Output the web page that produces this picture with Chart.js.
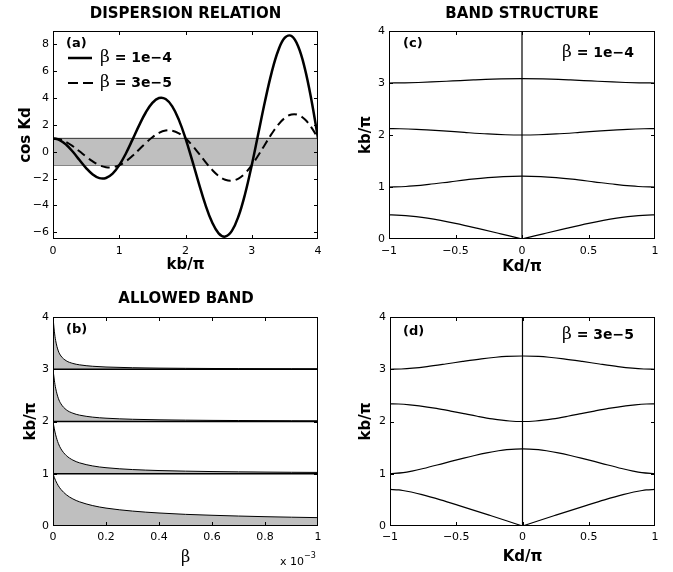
<!DOCTYPE html>
<html><head><meta charset="utf-8">
<script src="https://cdn.jsdelivr.net/npm/chart.js@4.4.1/dist/chart.umd.min.js"></script>
<style>
html,body{margin:0;padding:0;background:#fff;}
#wrap{position:relative;width:673px;height:572px;overflow:hidden;background:#fff;}
canvas{position:absolute;left:0;top:0;}
</style></head><body>
<div id="wrap">
<canvas id="ca" width="673" height="572" style="width:673px;height:572px"></canvas>
<canvas id="cb" width="673" height="572" style="width:673px;height:572px"></canvas>
<canvas id="cc" width="673" height="572" style="width:673px;height:572px"></canvas>
<canvas id="cd" width="673" height="572" style="width:673px;height:572px"></canvas>
</div>
<script>
// ---------- Panel (a): dispersion relation ----------
const kbA = [0,0.1,0.2,0.3,0.4,0.5,0.6,0.7,0.8,0.9,1.0,1.1,1.2,1.3,1.4,1.5,1.6,1.7,1.8,1.9,2.0,
             2.1,2.2,2.3,2.4,2.5,2.6,2.7,2.8,2.9,3.0,3.1,3.2,3.3,3.4,3.5,3.6,3.7,3.8,3.9,4.0];
const cosKdBeta1e4 = [1,0.876,0.523,-0.002,-0.616,-1.215,-1.696,-1.964,-1.952,-1.627,-1,
                      -0.125,0.905,1.968,2.927,3.645,4.007,3.930,3.380,2.378,1,
                      -0.626,-2.333,-3.934,-5.238,-6.075,-6.318,-5.896,-4.808,-3.129,-1,
                      1.377,3.762,5.900,7.549,8.505,8.629,7.862,6.237,3.880,1];
const cosKdBeta3e5 = [1,0.929,0.724,0.413,0.035,-0.36,-0.720,-0.996,-1.148,-1.151,-1,
                      -0.706,-0.301,0.169,0.650,1.08,1.405,1.578,1.571,1.374,1,
                      0.484,-0.122,-0.752,-1.335,-1.8,-2.089,-2.160,-1.994,-1.596,-1,
                      -0.261,0.545,1.334,2.019,2.52,2.774,2.743,2.417,1.819,1];
const bandLimitX = [0,4];
const bandUpper = [1,1];
const bandLower = [-1,-1];
const xTicksA = [0,1,2,3,4];
const xLabelsA = ['0','1','2','3','4'];
const yTicksA = [-6,-4,-2,0,2,4,6,8];
const yLabelsA = ['\u22126','\u22124','\u22122','0','2','4','6','8'];

// ---------- Panel (b): allowed bands vs beta (x 1e-3) ----------
const betaB = [0,0.005,0.01,0.02,0.03,0.05,0.075,0.1,0.15,0.2,0.3,0.4,0.5,0.6,0.7,0.8,0.9,1.0];
const band0Top = [1,0.9285,0.8675,0.771,0.700,0.599,0.518,0.463,0.390,0.343,0.2853,0.249,0.223,0.2052,0.1905,0.1785,0.1686,0.1601];
const band1Top = [2,1.8587,1.745,1.582,1.476,1.349,1.261,1.209,1.1493,1.116,1.0804,1.0615,1.0498,1.0419,1.0361,1.0317,1.0283,1.0255];
const band2Top = [3,2.792,2.637,2.445,2.338,2.2245,2.1585,2.122,2.0834,2.0633,2.0427,2.0322,2.0258,2.0215,2.0185,2.0162,2.0144,2.013];
const band3Top = [4,3.729,3.549,3.3505,3.254,3.162,3.111,3.0845,3.057,3.043,3.0289,3.0218,3.0174,3.0145,3.0125,3.0109,3.0097,3.0087];
const bandBottomX = [0,1];
const xTicksB = [0,0.2,0.4,0.6,0.8,1];
const xLabelsB = ['0','0.2','0.4','0.6','0.8','1'];
const yTicks04 = [0,1,2,3,4];
const yLabels04 = ['0','1','2','3','4'];

// ---------- Panel (c): band structure, beta = 1e-4 ----------
const c0LeftKd = [-1,-0.9424,-0.8754,-0.796,-0.7114,-0.5006,-0.3247,-0.160,-0.0797,0];
const c0LeftKb = [0.463,0.46,0.45,0.43,0.4,0.3,0.2,0.1,0.05,0];
const c0RightKd = [0,0.0797,0.160,0.3247,0.5006,0.7114,0.796,0.8754,0.9424,1];
const c0RightKb = [0,0.05,0.1,0.2,0.3,0.4,0.43,0.45,0.46,0.463];
const c1Kd = [-1,-0.8737,-0.8184,-0.7004,-0.5399,-0.3767,-0.2567,-0.1402,0,0.1402,0.2567,0.3767,0.5399,0.7004,0.8184,0.8737,1];
const c1Kb = [1,1.01,1.02,1.05,1.1,1.15,1.18,1.2,1.2095,1.2,1.18,1.15,1.1,1.05,1.02,1.01,1];
const c2Kd = [-1,-0.9174,-0.7926,-0.7155,-0.5931,-0.4331,-0.2576,-0.1255,0,0.1255,0.2576,0.4331,0.5931,0.7155,0.7926,0.9174,1];
const c2Kb = [2.122,2.12,2.11,2.1,2.08,2.05,2.02,2.005,2,2.005,2.02,2.05,2.08,2.1,2.11,2.12,2.122];
const c3Kd = [-1,-0.8812,-0.7796,-0.6805,-0.5212,-0.3651,-0.2195,0,0.2195,0.3651,0.5212,0.6805,0.7796,0.8812,1];
const c3Kb = [3,3.003,3.01,3.02,3.04,3.06,3.075,3.0845,3.075,3.06,3.04,3.02,3.01,3.003,3];

// ---------- Panel (d): band structure, beta = 3e-5 ----------
const d0LeftKd = [-1,-0.9333,-0.9034,-0.8401,-0.7583,-0.6187,-0.4899,-0.3652,-0.2426,-0.1209,0];
const d0LeftKb = [0.70,0.69,0.68,0.65,0.6,0.5,0.4,0.3,0.2,0.1,0];
const d0RightKd = [0,0.1209,0.2426,0.3652,0.4899,0.6187,0.7583,0.8401,0.9034,0.9333,1];
const d0RightKb = [0,0.1,0.2,0.3,0.4,0.5,0.6,0.65,0.68,0.69,0.70];
const d1Kd = [-1,-0.9002,-0.8345,-0.7484,-0.5953,-0.4428,-0.361,-0.27,-0.1808,-0.1189,0,0.1189,0.1808,0.27,0.361,0.4428,0.5953,0.7484,0.8345,0.9002,1];
const d1Kb = [1,1.02,1.05,1.1,1.2,1.3,1.35,1.4,1.44,1.46,1.477,1.46,1.44,1.4,1.35,1.3,1.2,1.1,1.05,1.02,1];
const d2Kd = [-1,-0.935,-0.8505,-0.779,-0.6495,-0.5427,-0.4426,-0.3413,-0.2278,-0.0975,0,0.0975,0.2278,0.3413,0.4426,0.5427,0.6495,0.779,0.8505,0.935,1];
const d2Kb = [2.3375,2.335,2.32,2.3,2.25,2.2,2.15,2.1,2.05,2.01,2,2.01,2.05,2.1,2.15,2.2,2.25,2.3,2.32,2.335,2.3375];
const d3Kd = [-1,-0.9161,-0.8289,-0.7211,-0.5813,-0.4516,-0.3101,-0.2005,-0.1213,0,0.1213,0.2005,0.3101,0.4516,0.5813,0.7211,0.8289,0.9161,1];
const d3Kb = [3,3.005,3.02,3.05,3.1,3.15,3.2,3.23,3.245,3.254,3.245,3.23,3.2,3.15,3.1,3.05,3.02,3.005,3];

const centerLineKd = [0,0];
const centerLineKb = [0,4];
const xTicksCD = [-1,-0.5,0,0.5,1];
const xLabelsCD = ['\u22121','\u22120.5','0','0.5','1'];

// ---------- helpers ----------
const zip = (xs, ys) => xs.map((x, i) => ({x: x, y: ys[i]}));
const GRAY = '#bfbfbf';
const SANS = '"DejaVu Sans", sans-serif';
const SERIF = '"DejaVu Serif", serif';

const decorPlugin = {
  id: 'decor',
  afterDatasetsDraw(chart, args, o) {
    const {ctx, chartArea: a, scales} = chart;
    ctx.save();
    ctx.strokeStyle = '#000';
    ctx.lineWidth = 1;
    ctx.setLineDash([]);
    const L = Math.round(a.left), T = Math.round(a.top), R = Math.round(a.right), B = Math.round(a.bottom);
    ctx.strokeRect(L + 0.5, T + 0.5, R - L - 1, B - T - 1);
    const tl = 4;
    ctx.beginPath();
    scales.x.ticks.forEach(t => {
      const p = Math.round(scales.x.getPixelForValue(t.value)) + 0.5;
      if (p < L + 2 || p > R - 2) return;
      ctx.moveTo(p, B); ctx.lineTo(p, B - tl);
      ctx.moveTo(p, T); ctx.lineTo(p, T + tl);
    });
    scales.y.ticks.forEach(t => {
      const p = Math.round(scales.y.getPixelForValue(t.value)) + 0.5;
      if (p < T + 2 || p > B - 2) return;
      ctx.moveTo(L, p); ctx.lineTo(L + tl, p);
      ctx.moveTo(R, p); ctx.lineTo(R - tl, p);
    });
    ctx.stroke();
    ctx.restore();
  },
  afterDraw(chart, args, o) {
    const ctx = chart.ctx;
    ctx.save();
    ctx.fillStyle = '#000';
    ctx.textBaseline = 'middle';
    (o.lines || []).forEach(l => {
      ctx.beginPath();
      ctx.strokeStyle = '#000';
      ctx.lineWidth = l.w;
      ctx.setLineDash(l.dash || []);
      ctx.moveTo(l.x1, l.y); ctx.lineTo(l.x2, l.y);
      ctx.stroke();
    });
    ctx.setLineDash([]);
    (o.texts || []).forEach(t => {
      let total = 0;
      t.parts.forEach(p => { ctx.font = p.f; total += ctx.measureText(p.t).width; });
      let x = t.align === 'center' ? t.x - total / 2 : t.x;
      t.parts.forEach(p => {
        ctx.font = p.f;
        ctx.textAlign = 'left';
        ctx.fillText(p.t, x, t.y + (p.dy || 0));
        x += ctx.measureText(p.t).width;
      });
    });
    ctx.restore();
  }
};

function makeChart(id, cfg) {
  return new Chart(document.getElementById(id), {
    type: 'line',
    data: { datasets: cfg.datasets },
    options: {
      responsive: false,
      animation: false,
      events: [],
      layout: { padding: cfg.padding },
      elements: {
        point: { radius: 0, hoverRadius: 0 },
        line: { borderColor: '#000', borderWidth: 1.2, fill: false }
      },
      plugins: {
        legend: { display: false },
        tooltip: { enabled: false },
        decor: { texts: cfg.texts, lines: cfg.legendLines || [] }
      },
      scales: {
        x: {
          type: 'linear', min: cfg.xMin, max: cfg.xMax,
          grid: { display: false, drawTicks: false }, border: { display: false },
          afterBuildTicks: s => { s.ticks = cfg.xTicks.map(v => ({value: v})); },
          afterFit: s => { s.height = cfg.xH; },
          ticks: { callback: (v, i) => cfg.xLabels[i], font: { family: SANS, size: 11 }, color: '#000',
                   padding: cfg.xPad, maxRotation: 0, autoSkip: false },
          title: { display: true, text: cfg.xTitle, font: cfg.xTitleFont, color: '#000',
                   padding: { top: 0, bottom: cfg.xTitlePad } }
        },
        y: {
          type: 'linear', min: cfg.yMin, max: cfg.yMax,
          grid: { display: false, drawTicks: false }, border: { display: false },
          afterBuildTicks: s => { s.ticks = cfg.yTicks.map(v => ({value: v})); },
          afterFit: s => { s.width = cfg.yW; },
          ticks: { callback: (v, i) => cfg.yLabels[i], font: { family: SANS, size: 11 }, color: '#000',
                   padding: 4, autoSkip: false },
          title: { display: true, text: cfg.yTitle, font: { family: SANS, size: 15, weight: 'bold' }, color: '#000',
                   padding: { top: cfg.yTitlePad, bottom: 0 } }
        }
      }
    },
    plugins: [decorPlugin]
  });
}

const titleFont = 'bold 15px ' + SANS;
const labFont = 'bold 13px ' + SANS;
const betaFont = '17px ' + SERIF;
const eqFont = 'bold 14px ' + SANS;
const axisTitleFont = { family: SANS, size: 15, weight: 'bold' };

// (a)
makeChart('ca', {
  padding: { left: 11, top: 31, right: 355, bottom: 293 },
  xMin: 0, xMax: 4, yMin: -6.5, yMax: 9, xH: 40, yW: 42,
  xTicks: xTicksA, xLabels: xLabelsA, yTicks: yTicksA, yLabels: yLabelsA,
  xPad: 6, xTitle: 'kb/\u03c0', xTitleFont: axisTitleFont, xTitlePad: 5,
  yTitle: 'cos Kd', yTitlePad: 6,
  datasets: [
    { data: zip(kbA, cosKdBeta1e4), borderWidth: 2.5, tension: 0.4, order: 1 },
    { data: zip(kbA, cosKdBeta3e5), borderWidth: 2, borderDash: [9, 5], tension: 0.4, order: 2 },
    { data: zip(bandLimitX, bandUpper), borderWidth: 1, borderColor: '#333', backgroundColor: GRAY, fill: { value: -1 }, order: 3 },
    { data: zip(bandLimitX, bandLower), borderWidth: 1, borderColor: '#333', order: 4 }
  ],
  texts: [
    { parts: [{ t: 'DISPERSION RELATION', f: titleFont }], x: 185.5, y: 14, align: 'center' },
    { parts: [{ t: '(a)', f: labFont }], x: 66, y: 44 },
    { parts: [{ t: '\u03b2', f: betaFont }, { t: ' = 1e\u22124', f: eqFont }], x: 100, y: 58 },
    { parts: [{ t: '\u03b2', f: betaFont }, { t: ' = 3e\u22125', f: eqFont }], x: 100, y: 83 }
  ],
  legendLines: [
    { x1: 68, x2: 92, y: 58, w: 2.5 },
    { x1: 68, x2: 93, y: 83, w: 2, dash: [10, 5] }
  ]
});

// (b)
makeChart('cb', {
  padding: { left: 11, top: 317, right: 355, bottom: 4 },
  xMin: 0, xMax: 1, yMin: 0, yMax: 4, xH: 42, yW: 42,
  xTicks: xTicksB, xLabels: xLabelsB, yTicks: yTicks04, yLabels: yLabels04,
  xPad: 5, xTitle: '\u03b2', xTitleFont: { family: SERIF, size: 16 }, xTitlePad: 1,
  yTitle: 'kb/\u03c0', yTitlePad: 11,
  datasets: [
    { data: zip(bandBottomX, [1, 1]), borderWidth: 1.5, order: 0 },
    { data: zip(bandBottomX, [2, 2]), borderWidth: 1.5, order: 0 },
    { data: zip(bandBottomX, [3, 3]), borderWidth: 1.5, order: 0 },
    { data: zip(betaB, band0Top), borderWidth: 1, cubicInterpolationMode: 'monotone', backgroundColor: GRAY, fill: { value: 0 }, order: 2 },
    { data: zip(betaB, band1Top), borderWidth: 1, cubicInterpolationMode: 'monotone', backgroundColor: GRAY, fill: { value: 1 }, order: 2 },
    { data: zip(betaB, band2Top), borderWidth: 1, cubicInterpolationMode: 'monotone', backgroundColor: GRAY, fill: { value: 2 }, order: 2 },
    { data: zip(betaB, band3Top), borderWidth: 1, cubicInterpolationMode: 'monotone', backgroundColor: GRAY, fill: { value: 3 }, order: 2 }
  ],
  texts: [
    { parts: [{ t: 'ALLOWED BAND', f: titleFont }], x: 186, y: 299, align: 'center' },
    { parts: [{ t: '(b)', f: labFont }], x: 66, y: 330 },
    { parts: [{ t: 'x 10', f: '11px ' + SANS }, { t: '\u22123', f: '8px ' + SANS, dy: -6 }], x: 280, y: 562 }
  ]
});

const bandDs = (kd, kb) => ({ data: zip(kd, kb), borderWidth: 1.2, cubicInterpolationMode: 'monotone' });

// (c)
makeChart('cc', {
  padding: { left: 347, top: 31, right: 18, bottom: 293 },
  xMin: -1, xMax: 1, yMin: 0, yMax: 4, xH: 40, yW: 42,
  xTicks: xTicksCD, xLabels: xLabelsCD, yTicks: yTicks04, yLabels: yLabels04,
  xPad: 6, xTitle: 'Kd/\u03c0', xTitleFont: axisTitleFont, xTitlePad: 3,
  yTitle: 'kb/\u03c0', yTitlePad: 10,
  datasets: [
    bandDs(c0LeftKd, c0LeftKb), bandDs(c0RightKd, c0RightKb),
    bandDs(c1Kd, c1Kb), bandDs(c2Kd, c2Kb), bandDs(c3Kd, c3Kb),
    { data: zip(centerLineKd, centerLineKb), borderWidth: 1.2, tension: 0 }
  ],
  texts: [
    { parts: [{ t: 'BAND STRUCTURE', f: titleFont }], x: 522, y: 14, align: 'center' },
    { parts: [{ t: '(c)', f: labFont }], x: 403, y: 44 },
    { parts: [{ t: '\u03b2', f: betaFont }, { t: ' = 1e\u22124', f: eqFont }], x: 562, y: 53 }
  ]
});

// (d)
makeChart('cd', {
  padding: { left: 348, top: 317, right: 18, bottom: 4 },
  xMin: -1, xMax: 1, yMin: 0, yMax: 4, xH: 42, yW: 42,
  xTicks: xTicksCD, xLabels: xLabelsCD, yTicks: yTicks04, yLabels: yLabels04,
  xPad: 5, xTitle: 'Kd/\u03c0', xTitleFont: axisTitleFont, xTitlePad: 2,
  yTitle: 'kb/\u03c0', yTitlePad: 9,
  datasets: [
    bandDs(d0LeftKd, d0LeftKb), bandDs(d0RightKd, d0RightKb),
    bandDs(d1Kd, d1Kb), bandDs(d2Kd, d2Kb), bandDs(d3Kd, d3Kb),
    { data: zip(centerLineKd, centerLineKb), borderWidth: 1.2, tension: 0 }
  ],
  texts: [
    { parts: [{ t: '(d)', f: labFont }], x: 403, y: 332 },
    { parts: [{ t: '\u03b2', f: betaFont }, { t: ' = 3e\u22125', f: eqFont }], x: 562, y: 335 }
  ]
});
</script>
</body></html>
